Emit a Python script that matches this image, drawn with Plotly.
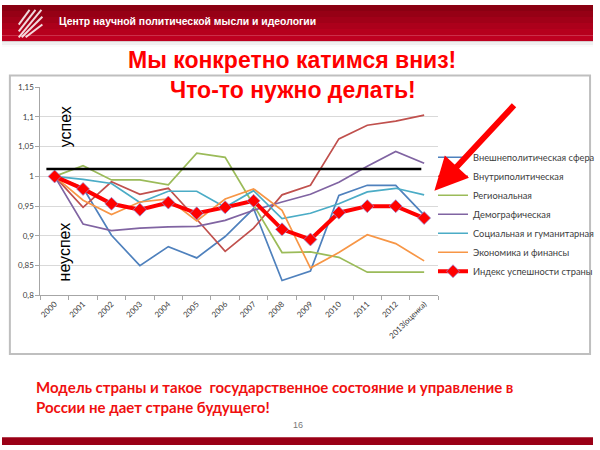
import plotly.graph_objects as go

W, H = 600, 450

years = ["2000", "2001", "2002", "2003", "2004", "2005", "2006", "2007",
         "2008", "2009", "2010", "2011", "2012", "2013(оценка)"]

foreign = [1.0, 0.981, 0.901, 0.850, 0.882, 0.863, 0.899, 0.946,
           0.825, 0.841, 0.968, 0.985, 0.985, 0.935]
domestic = [1.0, 0.948, 0.991, 0.970, 0.980, 0.928, 0.874, 0.913,
            0.969, 0.985, 1.063, 1.086, 1.093, 1.103]
regional = [1.0, 1.018, 0.994, 0.994, 0.986, 1.039, 1.032, 0.952,
            0.872, 0.873, 0.864, 0.839, 0.839, 0.839]
demographic = [1.0, 0.920, 0.909, 0.913, 0.915, 0.916, 0.926, 0.943,
               0.957, 0.970, 0.990, 1.017, 1.042, 1.022]
social = [1.0, 0.995, 0.988, 0.956, 0.975, 0.975, 0.948, 0.976,
          0.929, 0.938, 0.954, 0.974, 0.980, 0.969]
economy = [1.0, 0.960, 0.936, 0.957, 0.962, 0.925, 0.962, 0.979,
           0.943, 0.846, 0.872, 0.902, 0.887, 0.858]
index_total = [1.0, 0.979, 0.954, 0.944, 0.956, 0.938, 0.948, 0.959,
               0.911, 0.894, 0.939, 0.950, 0.950, 0.930]

series_names = ["Внешнеполитическая сфера", "Внутриполитическая", "Региональная",
                "Демографическая", "Социальная и гуманитарная", "Экономика и финансы"]
series_values = [foreign, domestic, regional, demographic, social, economy]
series_colors = ["#4F81BD", "#C0504D", "#9BBB59", "#8064A2", "#4BACC6", "#F79646"]

ytick_vals = [0.8, 0.85, 0.9, 0.95, 1.0, 1.05, 1.1, 1.15]
ytick_text = ["0,8", "0,85", "0,9", "0,95", "1", "1,05", "1,1", "1,15"]

threshold = 1.0125


def px(x):
    return x / W


def py(y):
    return 1 - y / H


fig = go.Figure()
for name, vals, col in zip(series_names, series_values, series_colors):
    fig.add_trace(go.Scatter(x=years, y=vals, name=name, mode="lines",
                             line=dict(color=col, width=1.7)))

fig.add_trace(go.Scatter(
    x=years, y=index_total, name="Индекс успешности страны", mode="lines+markers",
    line=dict(color="#FF0000", width=4),
    marker=dict(symbol="diamond", size=10, color="#FF0000",
                line=dict(color="rgba(140,150,230,0.7)", width=1)),
))

shapes = []
# header bar, rough vertical gradient
bands = ["#8A0012", "#960015", "#A10018", "#AC001B", "#B6001D", "#BE0020"]
for n, c in enumerate(bands):
    shapes.append(dict(type="rect", xref="paper", yref="paper", layer="below",
                       x0=0, x1=1, y0=py(37 * (n + 1) / len(bands)), y1=py(37 * n / len(bands)),
                       line=dict(width=0), fillcolor=c))
for n, c in enumerate(["#D0D0D0", "#E2E2E2", "#EFEFEF", "#F7F7F7"]):
    shapes.append(dict(type="rect", xref="paper", yref="paper", layer="below",
                       x0=0, x1=1, y0=py(38 + n * 1.5), y1=py(37 + n * 1.5),
                       line=dict(width=0), fillcolor=c))
# logo strokes
for x0, y0, x1, y1 in [(17, 33, 40, 5), (20, 33, 41, 12), (17, 27, 34, 5),
                       (17, 20, 28, 5), (24, 33, 41, 20)]:
    shapes.append(dict(type="line", xref="paper", yref="paper",
                       x0=px(x0), y0=py(y0), x1=px(x1), y1=py(y1),
                       line=dict(color="rgba(255,255,255,0.85)", width=2)))
# bottom bar
shapes.append(dict(type="rect", xref="paper", yref="paper", layer="below",
                   x0=0, x1=1, y0=0, y1=py(442), line=dict(width=0), fillcolor="#9A0016"))
# chart frame
shapes.append(dict(type="rect", xref="paper", yref="paper", layer="below",
                   x0=px(8), x1=px(597), y0=py(357), y1=py(72),
                   line=dict(color="#BFBFBF", width=2), fillcolor="white"))
# reference line
shapes.append(dict(type="line", xref="x", yref="y", x0=-0.29, x1=12.9,
                   y0=threshold, y1=threshold, line=dict(color="black", width=2.5)))

annotations = [
    dict(text="<b>Центр научной политической мысли и идеологии</b>", x=px(56), y=py(17),
         xanchor="left", font=dict(family="Liberation Sans", size=10.4, color="white")),
    dict(text="<b>Мы конкретно катимся вниз!</b>", x=px(294), y=py(56),
         font=dict(family="Liberation Sans", size=23, color="#FF0000")),
    dict(text="<b>Что-то нужно делать!</b>", x=px(295), y=py(87),
         font=dict(family="Liberation Sans", size=23, color="#FF0000")),
    dict(text="успех", x=px(64), y=py(125), textangle=-90,
         font=dict(family="Liberation Sans", size=16, color="black")),
    dict(text="неуспех", x=px(63), y=py(253), textangle=-90,
         font=dict(family="Liberation Sans", size=16, color="black")),
    dict(text="<b>Модель страны и такое  государственное состояние и управление в<br>"
              "России не дает стране будущего!</b>",
         x=px(32), y=py(401), xanchor="left", align="left",
         font=dict(family="Lato", size=15, color="#F01010")),
    dict(text="16", x=px(300), y=py(430),
         font=dict(family="Liberation Sans", size=9, color="#777777")),
    dict(text="", x=px(439), y=py(190), ax=81, ay=-87, showarrow=True,
         arrowhead=2, arrowsize=1.1, arrowwidth=6, arrowcolor="#FF0000"),
]
for a in annotations:
    a.setdefault("xref", "paper")
    a.setdefault("yref", "paper")
    a.setdefault("xanchor", "center")
    a.setdefault("yanchor", "middle")
    a.setdefault("showarrow", False)

fig.update_layout(
    width=W, height=H, autosize=False,
    margin=dict(l=0, r=0, t=0, b=0),
    paper_bgcolor="white", plot_bgcolor="white",
    shapes=shapes, annotations=annotations,
    font=dict(family="Lato", color="#404040"),
    xaxis=dict(domain=[px(39), px(443)], type="category", range=[-0.5, 13.5],
               showgrid=False, showline=True, linecolor="#A6A6A6", linewidth=1,
               ticks="outside", tickson="boundaries", ticklen=4, tickcolor="#A6A6A6",
               tickangle=-45, tickfont=dict(size=8, color="#404040")),
    yaxis=dict(domain=[py(297), py(84)], range=[0.8, 1.15],
               tickvals=ytick_vals, ticktext=ytick_text,
               showgrid=True, gridcolor="#D9D9D9", gridwidth=1, zeroline=False,
               showline=True, linecolor="#A6A6A6", linewidth=1,
               ticks="outside", ticklen=4, tickcolor="#A6A6A6",
               tickfont=dict(size=8, color="#404040")),
    legend=dict(x=px(438), y=py(214), xanchor="left", yanchor="middle",
                font=dict(size=9.3, color="#404040"), bgcolor="rgba(0,0,0,0)",
                itemwidth=30),
    showlegend=True,
)

# pin the figure to the window's top-left corner
pin = ("document.body.style.margin='0';"
       "document.body.style.overflow='hidden';"
       "var d=document.getElementById('{plot_id}');"
       "d.style.position='fixed';d.style.left='0px';d.style.top='0px';")
fig.write_html("out.html", config={"displayModeBar": False}, post_script=pin)
